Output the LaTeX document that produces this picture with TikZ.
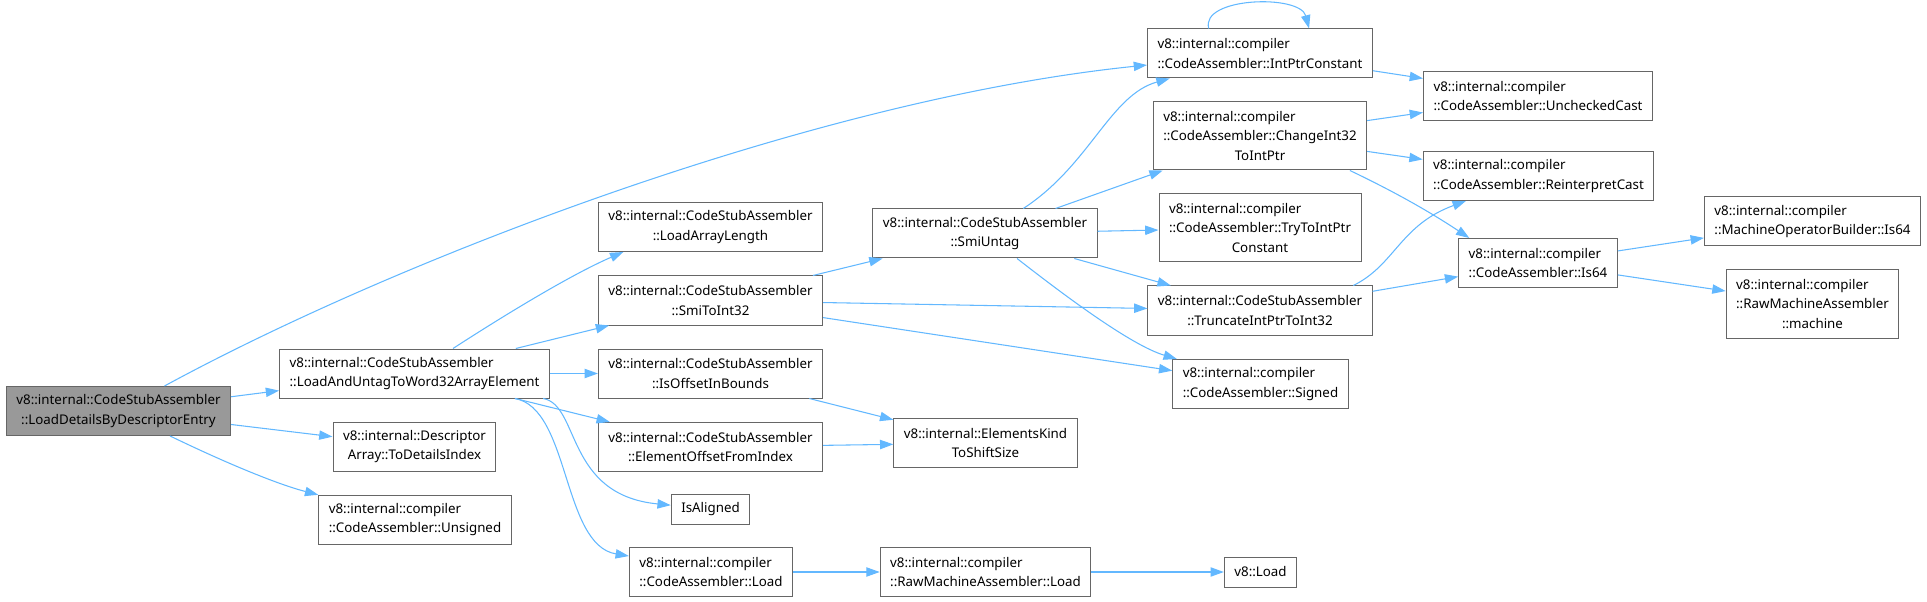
\documentclass[tikz,border=0pt]{standalone}
\usepackage{fontspec}
\setmainfont{Noto Sans}
\usetikzlibrary{arrows.meta, calc}
\definecolor{edgeblue}{HTML}{63B8FF}
\definecolor{boxline}{HTML}{666666}
\definecolor{rootfill}{HTML}{999999}
\tikzset{
  fnode/.style={
    rectangle, draw=boxline, fill=white, line width=0.75pt,
    inner xsep=7.5pt, inner ysep=2pt, minimum height=#1,
    align=center, font=\fontsize{10}{14.5}\selectfont, text=black
  },
  fnode/.default=36.75pt,
  rootnode/.style={fnode, fill=rootfill},
  callarrow/.style={-{Triangle[length=10pt,width=7pt]}, line width=0.8pt, color=edgeblue},
}
\begin{document}
\begin{tikzpicture}[x=0.75pt, y=-0.75pt]
  \useasboundingbox (0,0) rectangle (1927,602);
  \node[rootnode] (ld) at (118.5,411) {v8::internal::CodeStubAssembler\\::LoadDetailsByDescriptorEntry};
  \node[fnode, align=left] (lau) at (414.5,373.5) {v8::internal::CodeStubAssembler\\::LoadAndUntagToWord32ArrayElement};
  \node[fnode] (tdi) at (414.5,446.5) {v8::internal::Descriptor\\Array::ToDetailsIndex};
  \node[fnode, align=left] (uns) at (415,519.5) {v8::internal::compiler\\::CodeAssembler::Unsigned};
  \node[fnode] (lal) at (710.5,227) {v8::internal::CodeStubAssembler\\::LoadArrayLength};
  \node[fnode] (sti) at (710.5,300.5) {v8::internal::CodeStubAssembler\\::SmiToInt32};
  \node[fnode] (iob) at (710.5,373.5) {v8::internal::CodeStubAssembler\\::IsOffsetInBounds};
  \node[fnode] (eofi) at (710.5,447) {v8::internal::CodeStubAssembler\\::ElementOffsetFromIndex};
  \node[fnode=22.5pt] (isa) at (710.5,509) {IsAligned};
  \node[fnode, align=left] (cal) at (711,572) {v8::internal::compiler\\::CodeAssembler::Load};
  \node[fnode] (su) at (985,233.5) {v8::internal::CodeStubAssembler\\::SmiUntag};
  \node[fnode] (eks) at (985.5,443) {v8::internal::ElementsKind\\ToShiftSize};
  \node[fnode, align=left] (rml) at (985.5,572) {v8::internal::compiler\\::RawMachineAssembler::Load};
  \node[fnode=22.5pt] (v8l) at (1260.5,572) {v8::Load};
  \node[fnode, align=left] (ipc) at (1260,53.5) {v8::internal::compiler\\::CodeAssembler::IntPtrConstant};
  \node[fnode=51pt, align=left] (ci) at (1260,136) {v8::internal::compiler\\::CodeAssembler::ChangeInt32\\\hfill ToIntPtr\hfill\null};
  \node[fnode=51pt, align=left] (tt) at (1260,228) {v8::internal::compiler\\::CodeAssembler::TryToIntPtr\\\hfill Constant\hfill\null};
  \node[fnode] (tip) at (1260,310.5) {v8::internal::CodeStubAssembler\\::TruncateIntPtrToInt32};
  \node[fnode, align=left] (sgn) at (1260.5,384) {v8::internal::compiler\\::CodeAssembler::Signed};
  \node[fnode, align=left] (uc) at (1538,96) {v8::internal::compiler\\::CodeAssembler::UncheckedCast};
  \node[fnode, align=left] (rc) at (1538.5,176) {v8::internal::compiler\\::CodeAssembler::ReinterpretCast};
  \node[fnode, align=left] (is64) at (1538,263) {v8::internal::compiler\\::CodeAssembler::Is64};
  \node[fnode, align=left] (mob) at (1812.5,221.5) {v8::internal::compiler\\::MachineOperatorBuilder::Is64};
  \node[fnode=51pt, align=left] (rmm) at (1812.5,304) {v8::internal::compiler\\::RawMachineAssembler\\\hfill ::machine\hfill\null};
  \draw[callarrow] (ld) .. controls (400,258) and (816,99) .. (ipc);
  \draw[callarrow] (ld) -- (lau);
  \draw[callarrow] (ld) -- (tdi);
  \draw[callarrow] (ld) .. controls (230,465) and (280,485) .. (uns);
  \draw[callarrow] (lau) .. controls (500,318) and (570,275) .. (lal.-164);
  \draw[callarrow] (lau) -- (sti);
  \draw[callarrow] (lau) -- (iob);
  \draw[callarrow] (lau) -- (eofi);
  \draw[callarrow] (lau.-11) .. controls (580,405) and (565,495) .. (isa);
  \draw[callarrow] (lau.-14) .. controls (570,408) and (562,545) .. (cal.169);
  \draw[callarrow] (sti) -- (su);
  \draw[callarrow] (sti) -- (tip);
  \draw[callarrow] (sti) -- (sgn);
  \draw[callarrow] (su) .. controls (1090,165) and (1110,95) .. (ipc);
  \draw[callarrow] (su) -- (ci);
  \draw[callarrow] (su) -- (tt);
  \draw[callarrow] (su) -- (tip);
  \draw[callarrow] (su) .. controls (1060,292) and (1130,345) .. (sgn);
  \draw[callarrow] (iob) -- (eks);
  \draw[callarrow] (eofi) -- (eks);
  \draw[callarrow] (cal) -- (rml);
  \draw[callarrow] (rml) -- (v8l);
  \draw[callarrow] (ipc.154) .. controls (1200,-3) and (1300,-6) .. (ipc.27);
  \draw[callarrow] (ipc) -- (uc);
  \draw[callarrow] (ci) -- (uc);
  \draw[callarrow] (ci) -- (rc);
  \draw[callarrow] (ci.-21) .. controls (1395,192) and (1430,212) .. (is64.160);
  \draw[callarrow] (tip.15) .. controls (1395,265) and (1400,225) .. (rc.-161);
  \draw[callarrow] (tip) -- (is64);
  \draw[callarrow] (is64) -- (mob);
  \draw[callarrow] (is64) -- (rmm);
\end{tikzpicture}
\end{document}
